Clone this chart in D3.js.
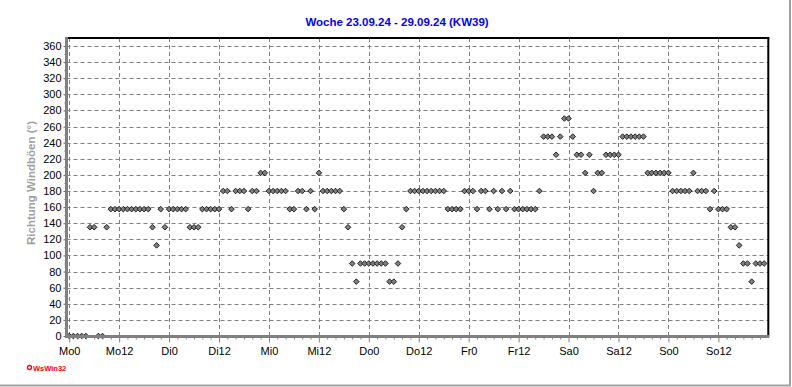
<!DOCTYPE html>
<html><head><meta charset="utf-8">
<script src="https://cdn.jsdelivr.net/npm/d3@7"></script>
<style>
html,body{margin:0;padding:0;background:#fff;}
svg{display:block;font-family:Arial,"Liberation Sans",sans-serif;}
</style></head>
<body><svg id="c" width="792" height="387"></svg>
<script>
// Hourly gust direction (degrees), one array per day, hours 0..23
const mo = [0,0,0,0,0,135,135,0,0,135,157.5,157.5,157.5,157.5,157.5,157.5,157.5,157.5,157.5,157.5,135,112.5,157.5,135];
const di = [157.5,157.5,157.5,157.5,157.5,135,135,135,157.5,157.5,157.5,157.5,157.5,180,180,157.5,180,180,180,157.5,180,180,202.5,202.5];
const mi = [180,180,180,180,180,157.5,157.5,180,180,157.5,180,157.5,202.5,180,180,180,180,180,157.5,135,90,67.5,90,90];
const dn = [90,90,90,90,90,67.5,67.5,90,135,157.5,180,180,180,180,180,180,180,180,180,157.5,157.5,157.5,157.5,180];
const fr = [180,180,157.5,180,180,157.5,180,157.5,180,157.5,180,157.5,157.5,157.5,157.5,157.5,157.5,180,247.5,247.5,247.5,225,247.5,270];
const sa = [270,247.5,225,225,202.5,225,180,202.5,202.5,225,225,225,225,247.5,247.5,247.5,247.5,247.5,247.5,202.5,202.5,202.5,202.5,202.5];
const so = [202.5,180,180,180,180,180,202.5,180,180,180,157.5,180,157.5,157.5,157.5,135,135,112.5,90,90,67.5,90,90,90];
const days = [mo, di, mi, dn, fr, sa, so];
const xTickLabels = ["Mo0","Mo12","Di0","Di12","Mi0","Mi12","Do0","Do12","Fr0","Fr12","Sa0","Sa12","So0","So12"];
const yTicks = [0,20,40,60,80,100,120,140,160,180,200,220,240,260,280,300,320,340,360];
const title = "Woche 23.09.24 - 29.09.24 (KW39)";
const yTitle = "Richtung Windböen  (°)";

const values = days.flat();
const svg = d3.select("#c");
const L = 66.5, R = 768.3, T = 38, B = 336.5;
const x = d3.scaleLinear().domain([0,168]).range([69.2,768.3]);
const y = d3.scaleLinear().domain([0,360]).range([336,46]);

// outer frame (right & bottom gray)
svg.append("line").attr("x1",790).attr("x2",790).attr("y1",0).attr("y2",386).attr("stroke","#a0a0a0").attr("stroke-width",2);
svg.append("line").attr("x1",0).attr("x2",791).attr("y1",385.5).attr("y2",385.5).attr("stroke","#a0a0a0").attr("stroke-width",2);

// title
svg.append("text").attr("x",397).attr("y",26).attr("text-anchor","middle")
  .attr("font-size",11.5).attr("font-weight","bold").attr("fill","#0000ff").text(title);

// grid
const g = svg.append("g");
g.selectAll("line.h").data(yTicks.filter(d=>d>0)).enter().append("line")
  .attr("x1",L).attr("x2",R).attr("y1",d=>Math.round(y(d))+0.5).attr("y2",d=>Math.round(y(d))+0.5)
  .attr("stroke","#808080").attr("stroke-dasharray","4,3");
g.selectAll("line.v").data(xTickLabels.map((d,i)=>i*12)).enter().append("line")
  .attr("x1",d=>Math.round(x(d))+0.5).attr("x2",d=>Math.round(x(d))+0.5).attr("y1",T).attr("y2",B)
  .attr("stroke","#808080").attr("stroke-dasharray","4,3");

// frame top & right
svg.append("line").attr("x1",L).attr("x2",R+1).attr("y1",T).attr("y2",T).attr("stroke","#000").attr("stroke-width",2);
svg.append("line").attr("x1",R).attr("x2",R).attr("y1",T).attr("y2",B).attr("stroke","#000").attr("stroke-width",2);

// points
const diamond = "M0,-2.8L2.8,0L0,2.8L-2.8,0Z";
svg.append("g").selectAll("path").data(values).enter().append("path")
  .attr("d",diamond)
  .attr("transform",(d,i)=>`translate(${x(i)},${y(d)})`)
  .attr("fill","#808080").attr("stroke","#111").attr("stroke-width",0.9);

// y axis
const ya = svg.append("g").attr("transform",`translate(${L},0)`)
  .call(d3.axisLeft(y).tickValues(yTicks).tickSize(3).tickPadding(2).tickFormat(d3.format("d")));
ya.select(".domain").remove();
ya.selectAll("line").attr("stroke","#606060");
ya.selectAll("text").attr("font-size",11).attr("fill","#000").attr("font-family","Arial,'Liberation Sans',sans-serif");
const ym = svg.append("g").attr("transform",`translate(${L},0)`)
  .call(d3.axisLeft(y).tickValues(yTicks.slice(0,-1).map(d=>d+10)).tickSize(2).tickFormat(""));
ym.select(".domain").remove();
ym.selectAll("line").attr("stroke","#606060");

// x axis
const xa = svg.append("g").attr("transform",`translate(0,${B})`)
  .call(d3.axisBottom(x).tickValues(xTickLabels.map((d,i)=>i*12)).tickSize(6).tickPadding(5)
    .tickFormat((d,i)=>xTickLabels[i]));
xa.select(".domain").remove();
xa.selectAll("line").attr("stroke","#808080");
xa.selectAll("text").attr("font-size",11).attr("fill","#000").attr("font-family","Arial,'Liberation Sans',sans-serif");
const xm = svg.append("g").attr("transform",`translate(0,${B})`)
  .call(d3.axisBottom(x).tickValues(d3.range(2,168,2).filter(d=>d%12!==0)).tickSize(3).tickFormat(""));
xm.select(".domain").remove();
xm.selectAll("line").attr("stroke","#808080");

// thick gray axis lines
svg.append("line").attr("x1",L).attr("x2",L).attr("y1",T-1).attr("y2",B+1.5).attr("stroke","#808080").attr("stroke-width",3);
svg.append("line").attr("x1",L-1.5).attr("x2",R+1).attr("y1",B).attr("y2",B).attr("stroke","#808080").attr("stroke-width",3);

// y title
svg.append("text").attr("transform","translate(35,183) rotate(-90)").attr("text-anchor","middle")
  .attr("font-size",11.5).attr("font-weight","bold").attr("fill","#a0a0a0").text(yTitle);

// logo
svg.append("circle").attr("cx",29.5).attr("cy",367.5).attr("r",2).attr("fill","none").attr("stroke","#ff0000").attr("stroke-width",1.3);
svg.append("text").attr("x",33).attr("y",370.5).attr("font-size",7.5).attr("font-weight","bold").attr("fill","#ff0000").text("WsWin32");
</script></body></html>
